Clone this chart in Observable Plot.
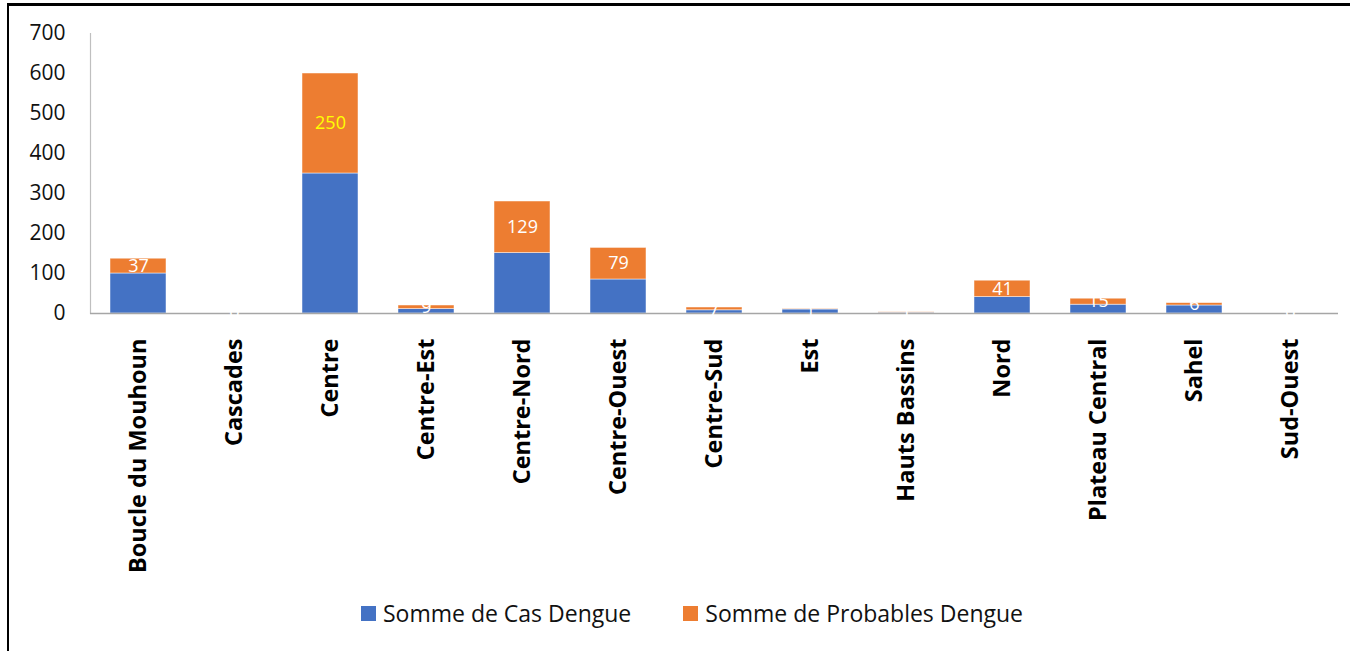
<!DOCTYPE html>
<html>
<head>
<meta charset="utf-8">
<script src="https://cdn.jsdelivr.net/npm/d3@7"></script>
<script src="https://cdn.jsdelivr.net/npm/@observablehq/plot@0.6"></script>
<style>
  html, body { margin: 0; padding: 0; background: #fff; }
  #frame {
    position: absolute; left: 7px; top: 3px; width: 1343px; height: 648px;
    border-top: 3px solid #000; border-left: 2px solid #000;
    font-family: "Open Sans", sans-serif;
  }
  #chart svg { display: block; }
  #legend {
    display: flex; justify-content: center; align-items: center;
    padding-top: 15px; padding-left: 23px; height: 24px;
    font-size: 23px; color: #111;
  }
  .item { display: flex; align-items: center; }
  .sw { width: 15px; height: 15px; margin-right: 7px; }
  .gap { width: 52px; }
</style>
</head>
<body>
<div id="frame">
  <div id="chart"></div>
  <div id="legend"></div>
</div>
<script>
const regions = ["Boucle du Mouhoun","Cascades","Centre","Centre-Est","Centre-Nord","Centre-Ouest","Centre-Sud","Est","Hauts Bassins","Nord","Plateau Central","Sahel","Sud-Ouest"];
const casDengue = [100, 0, 350, 11, 151, 85, 8, 10, 2, 41, 22, 20, 0];
const probablesDengue = [37, 0, 250, 9, 129, 79, 7, 1, 1, 41, 15, 6, 0];
const seriesNames = ["Somme de Cas Dengue", "Somme de Probables Dengue"];
const seriesColors = ["#4472C4", "#ED7D31"];
const yTicks = [0, 100, 200, 300, 400, 500, 600, 700];
const highlightRegion = "Centre";

const data = [];
regions.forEach((r, i) => {
  data.push({region: r, series: seriesNames[0], value: casDengue[i]});
  data.push({region: r, series: seriesNames[1], value: probablesDengue[i]});
});

const isProb = d => d.series === seriesNames[1];

const chart = Plot.plot({
  width: 1341,
  height: 580,
  marginLeft: 81,
  marginRight: 12,
  marginTop: 27,
  marginBottom: 273,
  style: {fontFamily: "Open Sans, sans-serif", background: "#fff"},
  x: {domain: regions, paddingInner: 0.42, paddingOuter: 0.21, label: null},
  y: {domain: [0, 700], label: null},
  color: {domain: seriesNames, range: seriesColors},
  marks: [
    Plot.barY(data, {x: "region", y: "value", fill: "series", stroke: "#fff", strokeWidth: 0.8, strokeOpacity: 0.6}),
    Plot.frame({anchor: "left", stroke: "#bfbfbf", strokeWidth: 1.2}),
    Plot.ruleY([0], {stroke: "#a6a6a6", strokeWidth: 1.5}),
    Plot.axisY({ticks: yTicks, tickSize: 0, tickPadding: 25, fontSize: 21, fill: "#111", label: null}),
    Plot.axisX({tickSize: 0, tickPadding: 25, tickRotate: -90, fontSize: 23.5, fontWeight: "bold", fill: "#000", label: null}),
    Plot.text(data, Plot.stackY({x: "region", y: "value", z: "series",
      text: d => isProb(d) && d.region !== highlightRegion ? String(d.value) : "", fill: "#fff", fontSize: 18})),
    Plot.text(data, Plot.stackY({x: "region", y: "value", z: "series",
      text: d => isProb(d) && d.region === highlightRegion ? String(d.value) : "", fill: "#ffff00", fontSize: 18})),
  ]
});
document.getElementById("chart").appendChild(chart);

const legend = document.getElementById("legend");
seriesNames.forEach((name, i) => {
  if (i > 0) { const g = document.createElement("div"); g.className = "gap"; legend.appendChild(g); }
  const item = document.createElement("div"); item.className = "item";
  const sw = document.createElement("div"); sw.className = "sw"; sw.style.background = seriesColors[i];
  const tx = document.createElement("span"); tx.textContent = name;
  item.appendChild(sw); item.appendChild(tx); legend.appendChild(item);
});
</script>
</body>
</html>
